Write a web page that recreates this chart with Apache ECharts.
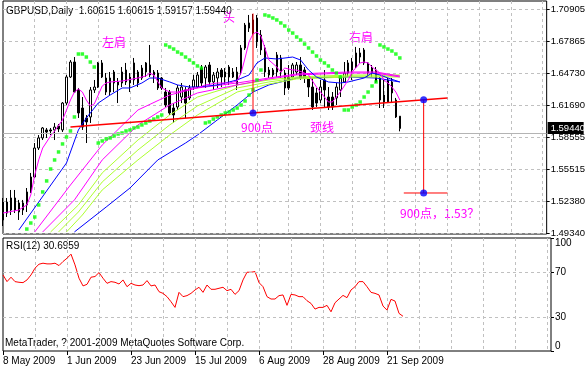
<!DOCTYPE html>
<html><head><meta charset="utf-8">
<script src="https://cdn.jsdelivr.net/npm/echarts@6/dist/echarts.min.js"></script>
<style>html,body{margin:0;padding:0;background:#fff}#c{width:588px;height:369px}</style>
</head><body><div id="c"></div>
<script>
const dates = ['8 May 2009','11 May 2009','12 May 2009','13 May 2009','14 May 2009','15 May 2009','18 May 2009','19 May 2009','20 May 2009','21 May 2009','22 May 2009','25 May 2009','26 May 2009','27 May 2009','28 May 2009','29 May 2009',
'1 Jun 2009','2 Jun 2009','3 Jun 2009','4 Jun 2009','5 Jun 2009','8 Jun 2009','9 Jun 2009','10 Jun 2009','11 Jun 2009','12 Jun 2009','15 Jun 2009','16 Jun 2009','17 Jun 2009','18 Jun 2009','19 Jun 2009','22 Jun 2009','23 Jun 2009','24 Jun 2009','25 Jun 2009','26 Jun 2009','29 Jun 2009','30 Jun 2009',
'1 Jul 2009','2 Jul 2009','3 Jul 2009','6 Jul 2009','7 Jul 2009','8 Jul 2009','9 Jul 2009','10 Jul 2009','13 Jul 2009','14 Jul 2009','15 Jul 2009','16 Jul 2009','17 Jul 2009','20 Jul 2009','21 Jul 2009','22 Jul 2009','23 Jul 2009','24 Jul 2009','27 Jul 2009','28 Jul 2009','29 Jul 2009','30 Jul 2009','31 Jul 2009',
'3 Aug 2009','4 Aug 2009','5 Aug 2009','6 Aug 2009','7 Aug 2009','10 Aug 2009','11 Aug 2009','12 Aug 2009','13 Aug 2009','14 Aug 2009','17 Aug 2009','18 Aug 2009','19 Aug 2009','20 Aug 2009','21 Aug 2009','24 Aug 2009','25 Aug 2009','26 Aug 2009','27 Aug 2009','28 Aug 2009','31 Aug 2009',
'1 Sep 2009','2 Sep 2009','3 Sep 2009','4 Sep 2009','7 Sep 2009','8 Sep 2009','9 Sep 2009','10 Sep 2009','11 Sep 2009','14 Sep 2009','15 Sep 2009','16 Sep 2009','17 Sep 2009','18 Sep 2009','21 Sep 2009','22 Sep 2009','23 Sep 2009','24 Sep 2009','25 Sep 2009'];

const opens = [1.5235,1.5235,1.5158,1.5274,1.5139,1.5158,1.5207,1.5332,1.5476,1.5755,
1.5852,1.5929,1.5929,1.5929,1.5967,1.5929,1.6188,1.6439,1.6583,1.6314,
1.6140,1.6044,1.6054,1.6314,1.6342,1.6574,1.6429,1.6294,1.6487,1.6391,
1.6381,1.6506,1.6381,1.6410,1.6487,1.6429,1.6487,1.6554,1.6458,1.6477,
1.6429,1.6294,1.6294,1.6140,1.6150,1.6246,1.6314,1.6237,1.6342,1.6342,
1.6525,1.6429,1.6554,1.6391,1.6429,1.6506,1.6439,1.6535,1.6439,1.6362,
1.6487,1.6718,1.6910,1.6988,1.7007,1.6843,1.6718,1.6506,1.6458,1.6487,
1.6622,1.6477,1.6439,1.6439,1.6487,1.6554,1.6506,1.6429,1.6342,1.6285,
1.6217,1.6410,1.6246,1.6246,1.6237,1.6314,1.6391,1.6477,1.6583,1.6535,
1.6631,1.6699,1.6574,1.6525,1.6506,1.6429,1.6265,1.6198,1.6391,1.6217,
1.60615];
const highs = [1.5274,1.5274,1.5351,1.5351,1.5255,1.5255,1.5370,1.5515,1.5803,1.5880,
1.5957,1.5948,1.5948,1.5996,1.5986,1.6198,1.6458,1.6602,1.6631,1.6333,
1.6246,1.6073,1.6342,1.6410,1.6583,1.6602,1.6477,1.6487,1.6506,1.6429,
1.6535,1.6574,1.6477,1.6622,1.6506,1.6554,1.6583,1.6747,1.6506,1.6506,
1.6439,1.6333,1.6314,1.6188,1.6362,1.6381,1.6342,1.6362,1.6458,1.6487,
1.6554,1.6554,1.6583,1.6487,1.6525,1.6525,1.6525,1.6554,1.6525,1.6535,
1.6747,1.6959,1.7036,1.7045,1.7036,1.6891,1.6747,1.6535,1.6525,1.6679,
1.6651,1.6506,1.6554,1.6574,1.6583,1.6631,1.6535,1.6439,1.6439,1.6333,
1.6410,1.6506,1.6342,1.6294,1.6381,1.6458,1.6583,1.6602,1.6622,1.6728,
1.6718,1.6718,1.6583,1.6554,1.6535,1.6439,1.6410,1.6429,1.6429,1.6237,
1.60615];
const lows = [1.5004,1.5091,1.5110,1.5129,1.5062,1.5110,1.5139,1.5322,1.5466,1.5736,
1.5832,1.5852,1.5880,1.5832,1.5909,1.5909,1.6169,1.6429,1.6285,1.6044,
1.5929,1.5803,1.5996,1.6285,1.6333,1.6429,1.6265,1.6256,1.6294,1.6188,
1.6342,1.6362,1.6294,1.6362,1.6342,1.6410,1.6439,1.6439,1.6381,1.6314,
1.6314,1.6150,1.6073,1.5996,1.6121,1.6188,1.6044,1.6217,1.6314,1.6333,
1.6342,1.6333,1.6362,1.6314,1.6333,1.6342,1.6362,1.6362,1.6429,1.6314,
1.6458,1.6699,1.6872,1.6843,1.6718,1.6651,1.6439,1.6429,1.6439,1.6439,
1.6429,1.6265,1.6314,1.6410,1.6458,1.6410,1.6381,1.6246,1.6121,1.6150,
1.6188,1.6150,1.6121,1.6121,1.6169,1.6246,1.6381,1.6439,1.6410,1.6525,
1.6574,1.6554,1.6439,1.6439,1.6381,1.6140,1.6140,1.6188,1.6188,1.6044,
1.59157];
const closes = [1.5062,1.5129,1.5274,1.5158,1.5226,1.5226,1.5332,1.5476,1.5755,1.5852,
1.5948,1.5909,1.5919,1.5957,1.5938,1.6188,1.6439,1.6583,1.6294,1.6092,
1.5957,1.6006,1.6314,1.6342,1.6574,1.6439,1.6294,1.6429,1.6381,1.6362,
1.6487,1.6391,1.6439,1.6574,1.6381,1.6525,1.6574,1.6458,1.6487,1.6333,
1.6333,1.6169,1.6092,1.6073,1.6333,1.6342,1.6188,1.6333,1.6410,1.6458,
1.6381,1.6535,1.6391,1.6458,1.6487,1.6439,1.6487,1.6439,1.6487,1.6487,
1.6718,1.6939,1.6959,1.6862,1.6776,1.6699,1.6487,1.6458,1.6506,1.6651,
1.6487,1.6333,1.6333,1.6554,1.6554,1.6429,1.6429,1.6342,1.6150,1.6188,
1.6342,1.6314,1.6150,1.6150,1.6342,1.6429,1.6477,1.6574,1.6506,1.6670,
1.6670,1.6574,1.6477,1.6477,1.6391,1.6217,1.6198,1.6410,1.6285,1.6054,
1.59440];

const rsi = [67.3,61.4,65.3,61.4,60.8,60.5,62.9,67.3,73.3,76.8,
77.7,77.1,77.1,77.7,75.6,79.2,82.1,85.7,76.2,64.4,
57.6,59.0,65.3,65.9,69.4,64.4,59.9,61.4,60.8,59.3,
62.9,56.9,59.9,58.4,57.8,58.4,62.3,57.6,58.4,52.5,
51.0,48.1,43.6,38.6,51.9,48.1,49.0,51.0,54.0,56.4,
51.9,58.4,54.6,54.6,55.5,56.4,53.4,54.6,50.1,53.4,
62.9,69.7,69.7,70.3,60.5,56.9,48.1,46.0,46.0,49.0,
49.6,40.4,50.1,49.6,48.1,48.1,44.5,42.1,37.1,38.6,
38.6,40.4,34.7,42.7,46.0,49.2,47.2,54.0,56.9,61.4,
61.4,56.9,51.9,51.0,49.6,39.8,36.2,45.7,44.2,33.3,
30.7];

const sar = [null,null,null,null,null,null,
1.4975,1.5033,1.5091,1.5207,
1.5332,1.5438,1.5553,1.5640,1.5717,1.5794,1.5861,1.5919,1.6054,
1.6660,1.6660,1.6631,1.6583,1.6535,
1.5803,1.5823,1.5842,1.5852,1.5871,1.5890,1.5900,1.5919,1.5929,1.5948,1.5957,1.5977,1.5996,1.6015,1.6034,1.6054,1.6073,
1.6747,1.6728,1.6708,1.6679,1.6660,1.6631,1.6602,1.6574,1.6545,1.6525,
1.5996,1.6006,1.6034,1.6054,1.6073,1.6092,1.6102,1.6121,1.6140,1.6169,1.6208,1.6265,1.6314,1.6410,1.6506,
1.7036,1.7026,1.7007,1.6988,1.6959,1.6930,1.6891,1.6862,1.6824,1.6795,1.6756,1.6718,1.6679,1.6641,1.6602,1.6574,1.6545,1.6506,1.6477,1.6439,
1.6121,1.6121,1.6150,1.6169,1.6198,1.6246,1.6294,1.6352,1.6391,
1.6747,1.6728,1.6708,1.6689,1.6660,1.6622];

const maFast = [[0,1.5129],[4,1.5158],[6,1.5207],[7,1.5303],[8,1.5495],[9,1.5640],[10,1.5755],[12,1.5871],[13,1.5919],[15,1.6025],[17,1.6217],[18,1.6294],[19,1.6323],[20,1.6294],[21,1.6217],[22,1.6160],[23,1.6179],[24,1.6265],[25,1.6352],[26,1.6381],[27,1.6391],[30,1.6400],[34,1.6429],[36,1.6448],[37,1.6477],[38,1.6458],[40,1.6333],[42,1.6294],[44,1.6294],[46,1.6314],[48,1.6333],[49,1.6333],[51,1.6362],[54,1.6381],[57,1.6381],[59,1.6400],[60,1.6477],[61,1.6622],[62,1.6776],[63,1.6853],[64,1.6872],[65,1.6833],[66,1.6718],[67,1.6602],[69,1.6535],[70,1.6487],[71,1.6525],[73,1.6506],[74,1.6506],[76,1.6477],[77,1.6458],[79,1.6342],[81,1.6246],[82,1.6198],[83,1.6198],[85,1.6294],[87,1.6410],[88,1.6487],[90,1.6574],[91,1.6583],[92,1.6574],[93,1.6535],[95,1.6477],[96,1.6410],[97,1.6381],[98,1.6342],[99,1.6294],[100,1.6217]];
const maMid = [[4,1.4966],[16,1.5611],[19,1.5929],[21,1.6044],[24,1.6188],[27,1.6265],[30,1.6333],[32,1.6333],[35,1.6381],[37,1.6429],[39,1.6429],[42,1.6391],[44,1.6362],[47,1.6342],[49,1.6342],[54,1.6362],[59,1.6410],[62,1.6458],[64,1.6574],[66,1.6622],[69,1.6612],[73,1.6631],[75,1.6602],[77,1.6506],[79,1.6439],[82,1.6391],[85,1.6381],[87,1.6391],[91,1.6429],[93,1.6477],[95,1.6458],[97,1.6429],[100,1.6391]];
const maLong = [[18,1.4947],[26,1.5187],[32,1.5370],[39,1.5640],[46,1.5803],[49,1.5880],[54,1.6025],[59,1.6169],[63,1.6294],[67,1.6362],[74,1.6429],[87,1.6439],[94,1.6429],[100,1.6391]];
const fanM1 = [[8,1.4947],[17,1.5399],[25,1.5784],[34,1.6121],[42,1.6265],[49,1.6333],[59,1.6381],[67,1.6429],[74,1.6468],[87,1.6487],[94,1.6487],[100,1.6448]];
const fanM2 = [[10,1.4947],[18,1.5255],[25,1.5640],[34,1.5977],[42,1.6169],[49,1.6285],[59,1.6362],[67,1.6420],[74,1.6458],[87,1.6477],[94,1.6477],[100,1.6439]];
const fanG1 = [[12,1.4947],[19,1.5207],[25,1.5515],[34,1.5832],[42,1.6073],[49,1.6246],[59,1.6362],[67,1.6410],[74,1.6439],[87,1.6458],[100,1.6458]];
const fanG2 = [[14,1.4947],[19,1.5139],[25,1.5428],[34,1.5736],[42,1.5977],[49,1.6160],[59,1.6333],[67,1.6391],[74,1.6429],[87,1.6448],[100,1.6448]];
const fanG3 = [[16,1.4947],[20,1.5110],[25,1.5351],[34,1.5640],[42,1.5880],[49,1.6073],[59,1.6294],[67,1.6371],[74,1.6420],[87,1.6439],[100,1.6439]];

const neckline = [[17,1.5957],[112,1.6237]];
const headLine = [[63,1.7050],[63,1.6093]];
const targetLine = [[106,1.6219],[106,1.5322]];
const targetBar = [[101,1.5322],[112,1.5322]];
const bluePoints = [[63,1.6093],[106,1.6219],[106,1.5322]];

const priceTicks = [1.49340,1.52380,1.55515,1.58555,1.61690,1.64730,1.67865,1.70905];
const rsiTicks = [0,30,70,100];
const rsiLevels = [30,70];
const lastPrice = 1.59440;
const headerText = 'GBPUSD,Daily  1.60615 1.60615 1.59157 1.59440';
const rsiText = 'RSI(12) 30.6959';
const copyText = 'MetaTrader, ? 2001-2009 MetaQuotes Software Corp.';

const FONT = '"Liberation Sans",Arial,sans-serif';
const CJK = '"Noto Sans CJK SC",sans-serif';
const N = 138;
const cats = dates.concat(Array.from({length: N - dates.length}, (_, k) => 'pad' + k));
const candleData = opens.map((o, i) => [o, closes[i], lows[i], highs[i]]);
const sarData = sar.map((v, i) => [i, v]).filter(d => d[1] != null);
const labelIdx = (i) => i % 16 === 0 && i <= 96;
const gridIdx = (i) => i % 8 === 0 && i > 0;
const dash = {color:'#c0c0c0', type:[3,3], width:1};

function ln(data, color, w, z) {
  return {type:'line', xAxisIndex:0, yAxisIndex:0, data, symbol:'none', showSymbol:false,
    lineStyle:{color, width:w||1}, itemStyle:{color}, z:z||3, silent:true, clip:true};
}

const textGraphics = [
  {type:'text', x:6, y:11, style:{text:headerText, fill:'#000', font:'10px '+FONT, verticalAlign:'middle'}},
  {type:'text', x:6, y:246, style:{text:rsiText, fill:'#000', font:'10px '+FONT, verticalAlign:'middle'}},
  {type:'text', x:5, y:343, style:{text:copyText, fill:'#000', font:'10px '+FONT, verticalAlign:'middle'}},
  {type:'text', x:114, y:42, style:{text:'左肩', fill:'#ff00ff', font:'12px '+CJK, align:'center', verticalAlign:'middle'}},
  {type:'text', x:229, y:17, style:{text:'头', fill:'#ff00ff', font:'12px '+CJK, align:'center', verticalAlign:'middle'}},
  {type:'text', x:361, y:37, style:{text:'右肩', fill:'#ff00ff', font:'12px '+CJK, align:'center', verticalAlign:'middle'}},
  {type:'text', x:257, y:127, style:{text:'900点', fill:'#ff00ff', font:'12px '+CJK, align:'center', verticalAlign:'middle'}},
  {type:'text', x:322, y:127, style:{text:'颈线', fill:'#ff00ff', font:'12px '+CJK, align:'center', verticalAlign:'middle'}},
  {type:'text', x:400, y:213, style:{text:'900点，1.53？', fill:'#ff00ff', font:'12px '+CJK, align:'left', verticalAlign:'middle'}}
];

const chart = echarts.init(document.getElementById('c'));
chart.setOption({
  animation:false,
  backgroundColor:'#fff',
  grid:[
    {left:3, top:1, width:548, height:233, show:true, borderColor:'#000', borderWidth:1, backgroundColor:'rgba(0,0,0,0)'},
    {left:3, top:238, width:548, height:113, show:true, borderColor:'#000', borderWidth:1, backgroundColor:'rgba(0,0,0,0)'}
  ],
  xAxis:[
    {type:'category', gridIndex:0, data:cats, boundaryGap:false,
     axisLine:{show:false}, axisTick:{show:false}, axisLabel:{show:false},
     splitLine:{show:true, interval:(i)=>gridIdx(i), lineStyle:dash}},
    {type:'category', gridIndex:1, data:cats, boundaryGap:false,
     axisLine:{show:false},
     axisTick:{show:true, interval:(i)=>labelIdx(i), length:4, lineStyle:{color:'#000'}},
     axisLabel:{show:true, interval:(i)=>labelIdx(i), align:'left', margin:5, fontSize:10, fontFamily:FONT, color:'#000'},
     splitLine:{show:true, interval:(i)=>gridIdx(i), lineStyle:dash}}
  ],
  yAxis:[
    {type:'value', gridIndex:0, position:'right', min:1.49272, max:1.71704, scale:true,
     axisLine:{show:false},
     axisTick:{show:true, customValues:priceTicks, length:3, lineStyle:{color:'#000'}},
     axisLabel:{show:true, customValues:priceTicks, formatter:(v)=>v.toFixed(5), margin:4, fontSize:9.5, fontFamily:FONT, color:'#000'},
     splitLine:{show:true, lineStyle:dash}},
    {type:'value', gridIndex:1, position:'right', min:0, max:100,
     axisLine:{show:false},
     axisTick:{show:true, customValues:rsiTicks, length:3, lineStyle:{color:'#000'}},
     axisLabel:{show:true, customValues:rsiTicks, margin:4, fontSize:10, fontFamily:FONT, color:'#000',
       verticalAlignMinLabel:'bottom', verticalAlignMaxLabel:'top'},
     splitLine:{show:false}}
  ],
  series:[
    {type:'candlestick', xAxisIndex:0, yAxisIndex:0, data:candleData, barWidth:2, z:2, silent:true,
     itemStyle:{color:'#fff', color0:'#000', borderColor:'#000', borderColor0:'#000', borderWidth:1},
     markLine:{silent:true, symbol:['none','none'], animation:false,
       lineStyle:{color:'#b4b4b4', type:'solid', width:1},
       label:{show:false},
       data:[{yAxis:lastPrice}]}},
    ln(maLong, '#0000ff'),
    ln(fanG3, '#adff2f'),
    ln(fanG2, '#adff2f'),
    ln(fanG1, '#adff2f'),
    ln(fanM2, '#ff00ff'),
    ln(fanM1, '#ff00ff'),
    ln(maMid, '#0000ff'),
    ln(maFast, '#ff00ff'),
    {type:'scatter', xAxisIndex:0, yAxisIndex:0, data:sarData, symbol:'rect', symbolSize:3.5, z:4, silent:true,
     itemStyle:{color:'#00ff00'}},
    ln(neckline, '#ff0000', 1.5, 5),
    ln(headLine, '#ff0000', 1, 5),
    ln(targetLine, '#ff0000', 1, 5),
    ln(targetBar, '#ff0000', 1, 5),
    {type:'scatter', xAxisIndex:0, yAxisIndex:0, data:bluePoints, symbol:'circle', symbolSize:7, z:6, silent:true,
     itemStyle:{color:'#0000ff'}},
    {type:'line', xAxisIndex:1, yAxisIndex:1, data:rsi, symbol:'none', showSymbol:false, silent:true,
     lineStyle:{color:'#ff0000', width:1}, itemStyle:{color:'#ff0000'}, z:3,
     markLine:{silent:true, symbol:['none','none'], lineStyle:dash, label:{show:false},
       data:rsiLevels.map(v=>({yAxis:v}))}}
  ],
  graphic:textGraphics
});

// current-price badge on the price scale, positioned through the axis scale
const py = chart.convertToPixel({yAxisIndex:0}, lastPrice);
const gx = chart.convertToPixel({xAxisIndex:0}, cats.length - 1);
chart.setOption({graphic: textGraphics.concat([
  {type:'rect', z:100, shape:{x:gx + 1, y:Math.round(py) - 6, width:36, height:12}, style:{fill:'#000'}},
  {type:'text', z:101, x:gx + 4, y:Math.round(py), style:{text:lastPrice.toFixed(5), fill:'#fff', font:'9.5px '+FONT, verticalAlign:'middle'}}
])});
</script></body></html>
